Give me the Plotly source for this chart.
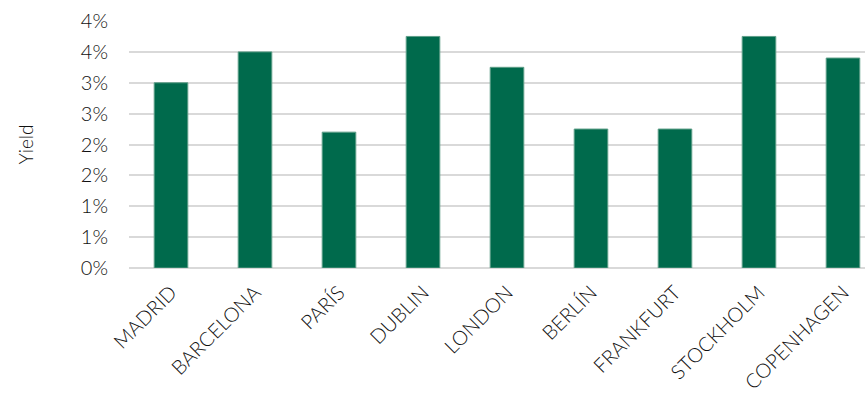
import plotly.graph_objects as go

cities = ["MADRID", "BARCELONA", "PARÍS", "DUBLIN", "LONDON",
          "BERLÍN", "FRANKFURT", "STOCKHOLM", "COPENHAGEN"]
yield_pct = [3.0, 3.5, 2.2, 3.75, 3.25, 2.25, 2.25, 3.75, 3.4]

y_ticks = [0, 0.5, 1.0, 1.5, 2.0, 2.5, 3.0, 3.5, 4.0]
y_tick_text = ["0%", "1%", "1%", "2%", "2%", "3%", "3%", "4%", "4%"]

font_family = "Lato, 'Open Sans', sans-serif"
text_color = "#111111"

fig = go.Figure(
    go.Bar(
        x=list(range(len(cities))),
        y=yield_pct,
        width=0.4,
        marker=dict(color="#006A4C", line=dict(color="#5E9E88", width=1)),
    )
)

fig.update_layout(
    width=865,
    height=393,
    margin=dict(l=129, r=0, t=21, b=125),
    paper_bgcolor="white",
    plot_bgcolor="white",
    showlegend=False,
    font=dict(family=font_family, color=text_color),
)

fig.update_xaxes(
    range=[-0.5, 8.262],
    tickmode="array",
    tickvals=list(range(len(cities))),
    ticktext=cities,
    tickangle=-45,
    tickfont=dict(size=20, color=text_color, weight=300),
    ticklabelstandoff=8,
    showgrid=False,
    showline=False,
    ticks="",
)

fig.update_yaxes(
    range=[0, 4.0],
    tickmode="array",
    tickvals=y_ticks,
    ticktext=y_tick_text,
    tickfont=dict(size=20, color=text_color, weight=300),
    showgrid=True,
    gridcolor="#D9D9D9",
    gridwidth=1.5,
    zeroline=True,
    zerolinecolor="#D9D9D9",
    zerolinewidth=1.5,
    showline=False,
    ticks="",
    ticklabelstandoff=20,
    title=dict(text="Yield", font=dict(size=19, color=text_color, weight=300),
               standoff=42),
)

fig.write_html("out.html")
